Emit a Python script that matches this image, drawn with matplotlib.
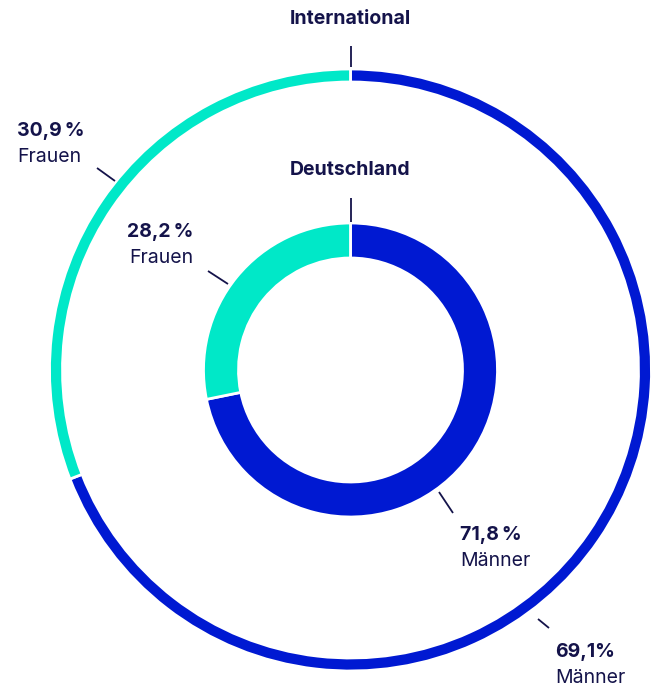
import matplotlib.pyplot as plt

# --- Daten -------------------------------------------------------------------
kategorien = ["Männer", "Frauen"]
international = [69.1, 30.9]
deutschland = [71.8, 28.2]
label_international = ["69,1%", "30,9\u2009%"]
label_deutschland = ["71,8\u2009%", "28,2\u2009%"]

# --- Stil --------------------------------------------------------------------
BLAU = "#0019D2"
TUERKIS = "#00E8C8"
TEXT = "#14134A"
W, H = 656, 689
CX, CY = 350.5, H - 370   # Mittelpunkt in Pixel (y nach oben)
FS = 14

plt.rcParams["font.family"] = ["Inter", "DejaVu Sans"]

fig = plt.figure(figsize=(W / 100, H / 100), dpi=100)
ax = fig.add_axes([0, 0, 1, 1])

farben = [BLAU, TUERKIS]
ax.pie(international, colors=farben, startangle=90, counterclock=False,
       center=(CX, CY), radius=301, frame=True,
       wedgeprops=dict(width=13, edgecolor="white", linewidth=2))
ax.pie(deutschland, colors=farben, startangle=90, counterclock=False,
       center=(CX, CY), radius=147, frame=True,
       wedgeprops=dict(width=35, edgecolor="white", linewidth=2))
ax.set_xlim(0, W)
ax.set_ylim(0, H)
ax.set_aspect("equal")
ax.axis("off")


def py(y):
    # Pixel-y (von oben) -> Datenkoordinate
    return H - y


def linie(x0, y0, x1, y1):
    ax.plot([x0, x1], [py(y0), py(y1)], color=TEXT, lw=1.3,
            solid_capstyle="butt")


def label(x, y, wert, name, ha):
    ax.text(x, py(y), wert, ha=ha, va="center", fontsize=FS,
            fontweight="bold", color=TEXT)
    ax.text(x, py(y + 26), name, ha=ha, va="center", fontsize=FS,
            color=TEXT)


# Titel der Ringe
ax.text(CX, py(19), "International", ha="center", va="center",
        fontsize=FS, fontweight="bold", color=TEXT)
linie(350.5, 46, 350.5, 67)
ax.text(CX, py(170), "Deutschland", ha="center", va="center",
        fontsize=FS, fontweight="bold", color=TEXT)
linie(350.5, 198, 350.5, 222)

# Beschriftungen
label(17, 131, label_international[1], kategorien[1], "left")
linie(97, 168, 115, 181)
label(193, 232, label_deutschland[1], kategorien[1], "right")
linie(208, 271, 228, 284)
label(460, 535, label_deutschland[0], kategorien[0], "left")
linie(439, 492, 453, 513)
label(555, 652, label_international[0], kategorien[0], "left")
linie(538, 619, 549, 628)

fig.savefig("out.png", dpi=100)
